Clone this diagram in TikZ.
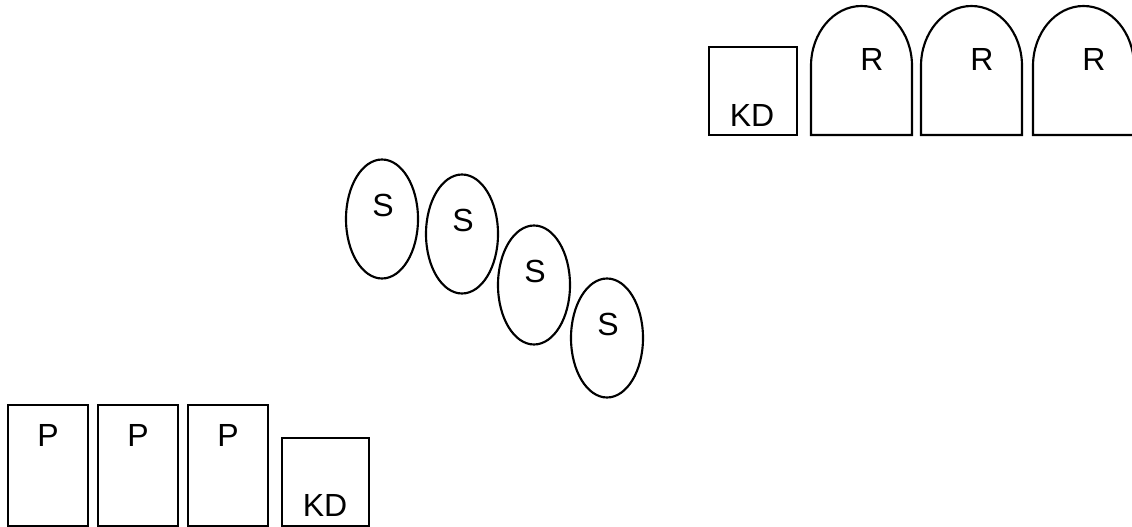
\documentclass[tikz,border=0pt]{standalone}
\usepackage{fontspec}
\setmainfont{Liberation Sans}
\begin{document}
\begin{tikzpicture}[x=0.75pt, y=-0.75pt, line width=1.6pt,
    lbl/.style={font=\fontsize{24}{28}\selectfont, inner sep=0pt}]

      \useasboundingbox (0,0) rectangle (1132,527);

      % P boxes and KD, bottom left
      \foreach \x/\n in {8/1, 98/2, 188/3} {
        \draw (\x,405) rectangle ++(80,121);
        \node[lbl] (p\n) at (\x+40,435) {P};
      }
      \draw (282,438) rectangle (369,526);
      \node[lbl] (kdp) at (325,505) {KD};

      % S ellipses
      \foreach \cx/\cy/\n in {382/219/1, 462/234/2, 534/285/3, 607/338/4} {
        \draw (\cx,\cy) ellipse [x radius=36, y radius=59.5];
        \node[lbl] (s\n) at (\cx+1,\cy-14) {S};
      }

      % KD and R arches, top right
      \draw (709,47) rectangle (797,135);
      \node[lbl] (kdr) at (752,115) {KD};
      \foreach \x/\n in {811/1, 921/2, 1033/3} {
        \draw (\x,135) -- (\x,66) arc[start angle=180, end angle=360, x radius=50.5, y radius=60] -- (\x+101,135) -- cycle;
        \node[lbl] (r\n) at (\x+61,59) {R};
      }

    \end{tikzpicture}
\end{document}
